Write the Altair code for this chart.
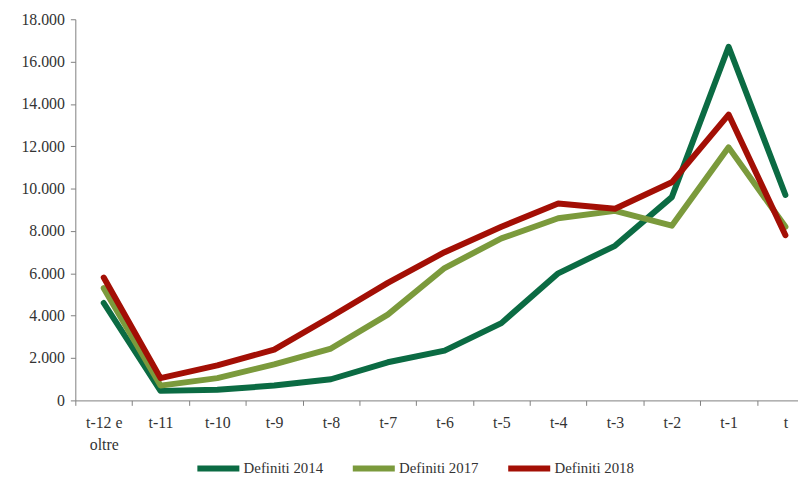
import altair as alt
import pandas as pd

categories = ["t-12 e oltre", "t-11", "t-10", "t-9", "t-8", "t-7", "t-6",
              "t-5", "t-4", "t-3", "t-2", "t-1", "t"]
series_names = ["Definiti 2014", "Definiti 2017", "Definiti 2018"]
d2014 = [4600, 450, 500, 700, 1000, 1800, 2350, 3650, 6000, 7300, 9600, 16700, 9700]
d2017 = [5300, 700, 1050, 1700, 2450, 4050, 6250, 7650, 8600, 8950, 8250, 11950, 8200]
d2018 = [5800, 1050, 1650, 2400, 3950, 5550, 7000, 8200, 9300, 9050, 10300, 13500, 7800]
colors = ["#0B6B43", "#7B9A3C", "#A30F05"]
y_ticks = [0, 2000, 4000, 6000, 8000, 10000, 12000, 14000, 16000, 18000]

rows = []
for name, vals in zip(series_names, [d2014, d2017, d2018]):
    for i, (c, v) in enumerate(zip(categories, vals)):
        rows.append({"cat": c, "serie": name, "valore": v, "ord": i})
df = pd.DataFrame(rows)

FONT = "Liberation Sans Narrow"

chart = alt.Chart(df).mark_line(strokeWidth=6, strokeCap="round", strokeJoin="round").encode(
    x=alt.X("cat:N", sort=categories, title=None,
            scale=alt.Scale(type="band", range=[0, 746], paddingInner=0, paddingOuter=0),
            axis=alt.Axis(labelAngle=0, tickBand="extent", tickSize=5, labelPadding=9,
                          labelFontSize=16, labelColor="#333333", domainColor="#808080",
                          tickColor="#808080", labelFont=FONT, labelLineHeight=23,
                          labelExpr="datum.value == 't-12 e oltre' ? ['t-12 e', 'oltre'] : datum.value")),
    y=alt.Y("valore:Q", title=None,
            scale=alt.Scale(domain=[0, 18000], nice=False),
            axis=alt.Axis(values=y_ticks, grid=False, tickSize=5, labelPadding=6,
                          labelFontSize=16, labelColor="#333333", domainColor="#808080",
                          tickColor="#808080", labelFont=FONT,
                          labelExpr="replace(format(datum.value, ','), ',', '.')")),
    color=alt.Color("serie:N", sort=series_names,
                    scale=alt.Scale(domain=series_names, range=colors),
                    legend=alt.Legend(title=None, orient="none", direction="horizontal",
                                      legendX=120, legendY=429,
                                      symbolType="stroke", symbolStrokeWidth=6, symbolSize=1800,
                                      labelFontSize=15, labelFont=FONT, labelColor="#333333",
                                      columnPadding=17, labelOffset=1)),
    order="ord:Q",
).properties(
    width=730, height=385,
    autosize=alt.AutoSizeParams(type="none"),
    padding={"left": 68, "top": 9, "right": 0, "bottom": 74},
).configure_view(stroke=None)

chart.save("out.html", embed_options={"renderer": "svg", "actions": False})
